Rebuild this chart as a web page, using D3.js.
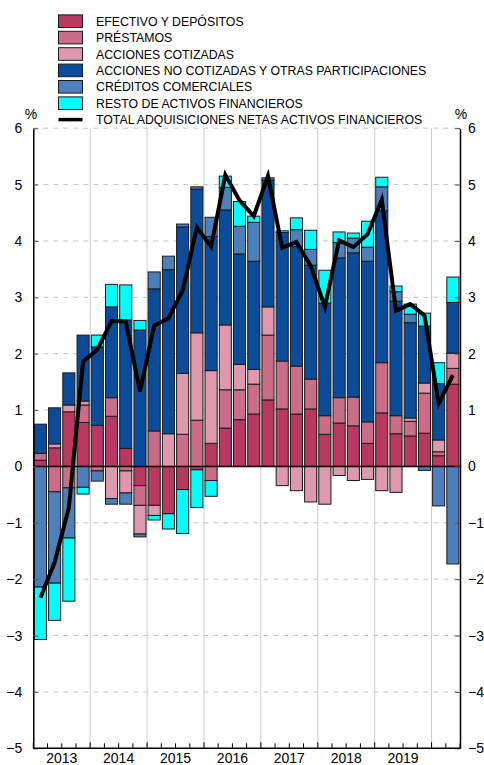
<!DOCTYPE html>
<html>
<head>
<meta charset="utf-8">
<script src="https://cdn.jsdelivr.net/npm/d3@7"></script>
<style>
  html, body { margin: 0; padding: 0; background: #fff; }
  svg { display: block; font-family: "Liberation Sans", Arial, Helvetica, sans-serif; }
</style>
</head>
<body>
<svg id="chart" width="484" height="765"></svg>
<script>
// ---------- DATA ----------
const quarters = [
  "2013-I","2013-II","2013-III","2013-IV",
  "2014-I","2014-II","2014-III","2014-IV",
  "2015-I","2015-II","2015-III","2015-IV",
  "2016-I","2016-II","2016-III","2016-IV",
  "2017-I","2017-II","2017-III","2017-IV",
  "2018-I","2018-II","2018-III","2018-IV",
  "2019-I","2019-II","2019-III","2019-IV",
  "2020-I","2020-II"
];
const yearLabels = ["2013","2014","2015","2016","2017","2018","2019"];
const yTicks = [-5,-4,-3,-2,-1,0,1,2,3,4,5,6];

const efectivo = [0.11,0.33,0.97,0.78, 0.73,0.89,0.32,-0.34, -0.69,-0.84,-0.41,-0.06, 0.41,0.68,0.83,0.93, 1.18,1.02,0.93,1.02, 0.57,0.77,0.72,0.41, 0.95,0.58,0.54,0.59, 0.19,1.46];
const prestamos = [0.12,-0.45,-0.38,0.31, -0.08,0.33,-0.08,-0.35, 0.63,0.00,0.57,0.82, -0.25,0.68,0.53,0.53, 1.15,0.85,0.85,0.53, 0.33,0.45,0.51,0.38, 0.89,0.32,0.26,0.71, 0.07,0.28];
const cotizadas = [0.00,0.07,0.12,0.07, 0.00,-0.57,-0.39,-0.51, -0.18,0.58,1.08,1.55, 1.29,1.15,0.45,0.26, 0.50,-0.34,-0.43,-0.63, -0.67,-0.16,-0.25,-0.23, -0.43,-0.46,0.06,0.18, 0.21,0.27];
const noCotizadas = [0.52,0.64,0.57,1.17, 1.39,1.61,2.28,2.42, 2.52,2.91,2.60,2.55, 2.38,2.04,1.96,1.92, 2.25,2.28,2.12,2.02, 2.00,2.48,2.56,2.85, 2.70,2.03,1.69,1.01, 1.00,0.90];
const creditos = [-2.14,-1.62,-0.89,-0.37, -0.18,-0.10,-0.20,-0.05, 0.30,0.24,0.05,0.04, 0.34,0.40,0.49,0.69, 0.04,0.00,0.30,0.28, 0.00,0.27,0.26,0.25, 0.42,0.17,0.15,-0.07, -0.70,-1.73];
const resto = [-0.93,-0.66,-1.12,-0.12, 0.21,0.40,0.62,0.17, -0.08,-0.27,-0.78,-0.67, -0.28,0.20,0.44,0.11, 0.00,0.03,0.21,0.34, 0.58,0.19,0.09,0.46, 0.17,0.10,0.18,0.23, 0.37,0.45];
const total = [-2.33,-1.70,-0.73,1.86, 2.07,2.58,2.57,1.33, 2.50,2.63,3.12,4.24, 3.90,5.17,4.72,4.44, 5.15,3.88,3.98,3.56, 2.83,4.01,3.89,4.12, 4.73,2.76,2.88,2.68, 1.12,1.62];

const seriesNames = [
  "EFECTIVO Y DEPÓSITOS",
  "PRÉSTAMOS",
  "ACCIONES COTIZADAS",
  "ACCIONES NO COTIZADAS Y OTRAS PARTICIPACIONES",
  "CRÉDITOS COMERCIALES",
  "RESTO DE ACTIVOS FINANCIEROS"
];
const totalName = "TOTAL ADQUISICIONES NETAS ACTIVOS FINANCIEROS";
const seriesValues = [efectivo, prestamos, cotizadas, noCotizadas, creditos, resto];
const colors = ["#B8385F","#CB6C88","#DE99AE","#0A4C9A","#4D80BB","#00FFFF"];

// ---------- LAYOUT ----------
const svg = d3.select("#chart");
const pLeft = 33.3, pRight = 460, pTop = 128.2, pBottom = 748.3;

const x = d3.scaleBand().domain(quarters).range([pLeft, pRight]).paddingInner(0.15).paddingOuter(0.075);
const y = d3.scaleLinear().domain([-5, 6]).range([pBottom, pTop]);
const step = x.step();
const boundary = i => pLeft + i * step;

// table for stacking
const table = quarters.map((q, i) => {
  const o = { q };
  seriesNames.forEach((s, k) => { o[s] = seriesValues[k][i]; });
  return o;
});
const stacked = d3.stack().keys(seriesNames).offset(d3.stackOffsetDiverging)(table);

// ---------- GRID ----------
const grid = svg.append("g");
grid.selectAll("line.h").data(yTicks.filter(v => v !== 0 && v !== -5)).join("line")
  .attr("x1", pLeft).attr("x2", pRight)
  .attr("y1", d => y(d)).attr("y2", d => y(d))
  .attr("stroke", "#c4c4c4").attr("stroke-width", 1).attr("stroke-dasharray", "5,5");
grid.selectAll("line.v").data(d3.range(4, 30, 4)).join("line")
  .attr("x1", d => boundary(d)).attr("x2", d => boundary(d))
  .attr("y1", pTop).attr("y2", pBottom)
  .attr("stroke", "#cccccc").attr("stroke-width", 1);

// ---------- BARS ----------
const barsG = svg.append("g");
stacked.forEach((layer, k) => {
  barsG.append("g").selectAll("rect").data(layer.filter(d => d[1] - d[0] !== 0)).join("rect")
    .attr("x", d => x(d.data.q))
    .attr("width", x.bandwidth())
    .attr("y", d => y(Math.max(d[0], d[1])))
    .attr("height", d => Math.abs(y(d[0]) - y(d[1])))
    .attr("fill", colors[k])
    .attr("stroke", "#1a1a1a").attr("stroke-width", 1);
});

// zero line
svg.append("line").attr("x1", pLeft).attr("x2", pRight)
  .attr("y1", y(0)).attr("y2", y(0)).attr("stroke", "#000").attr("stroke-width", 1.5);

// ---------- TOTAL LINE ----------
const line = d3.line().x((d, i) => x(quarters[i]) + x.bandwidth() / 2).y(d => y(d));
svg.append("path").datum(total).attr("d", line)
  .attr("fill", "none").attr("stroke", "#000").attr("stroke-width", 4)
  .attr("stroke-linejoin", "miter");

// ---------- AXES ----------
const axL = svg.append("g").attr("transform", `translate(${pLeft},0)`)
  .call(d3.axisLeft(y).tickValues(yTicks).tickSizeInner(-5).tickSizeOuter(0).tickPadding(11));
const axR = svg.append("g").attr("transform", `translate(${pRight},0)`)
  .call(d3.axisRight(y).tickValues(yTicks).tickSizeInner(-5).tickSizeOuter(0).tickPadding(8));
[axL, axR].forEach(a => {
  a.select(".domain").attr("stroke", "#000").attr("stroke-width", 1.5);
  a.selectAll(".tick line").attr("stroke", "#555");
  a.selectAll("text").attr("font-size", 14).attr("fill", "#000")
    .attr("font-family", "'Liberation Sans', Arial, Helvetica, sans-serif");
});

// bottom axis
svg.append("line").attr("x1", pLeft).attr("x2", pRight).attr("y1", pBottom).attr("y2", pBottom)
  .attr("stroke", "#000").attr("stroke-width", 1.5);
svg.append("g").selectAll("line").data(d3.range(0, 31)).join("line")
  .attr("x1", d => boundary(d)).attr("x2", d => boundary(d))
  .attr("y1", pBottom).attr("y2", d => pBottom - (d % 4 === 0 ? 6 : 5))
  .attr("stroke", "#000").attr("stroke-width", 1);
svg.append("g").selectAll("text").data(yearLabels).join("text")
  .attr("x", (d, i) => boundary(i * 4) + 2 * step)
  .attr("y", 763)
  .attr("text-anchor", "middle").attr("font-size", 14).attr("fill", "#000")
  .text(d => d);

// % labels
svg.append("text").attr("x", 31).attr("y", 119).attr("text-anchor", "middle").attr("font-size", 14).text("%");
svg.append("text").attr("x", 461).attr("y", 119).attr("text-anchor", "middle").attr("font-size", 14).text("%");

// ---------- LEGEND ----------
const lg = svg.append("g");
const rowY = i => 21.2 + i * 16.4;
seriesNames.forEach((s, i) => {
  lg.append("rect").attr("x", 58.5).attr("y", rowY(i) - 6.3).attr("width", 24).attr("height", 12.6)
    .attr("fill", colors[i]).attr("stroke", "#1a1a1a").attr("stroke-width", 1);
  lg.append("text").attr("x", 96).attr("y", rowY(i) + 4.5).attr("font-size", 12.3).attr("fill", "#000").text(s);
});
lg.append("line").attr("x1", 58.5).attr("x2", 82.5).attr("y1", rowY(6)).attr("y2", rowY(6))
  .attr("stroke", "#000").attr("stroke-width", 3.5);
lg.append("text").attr("x", 96).attr("y", rowY(6) + 4.5).attr("font-size", 12.3).attr("fill", "#000").text(totalName);
</script>
</body>
</html>
